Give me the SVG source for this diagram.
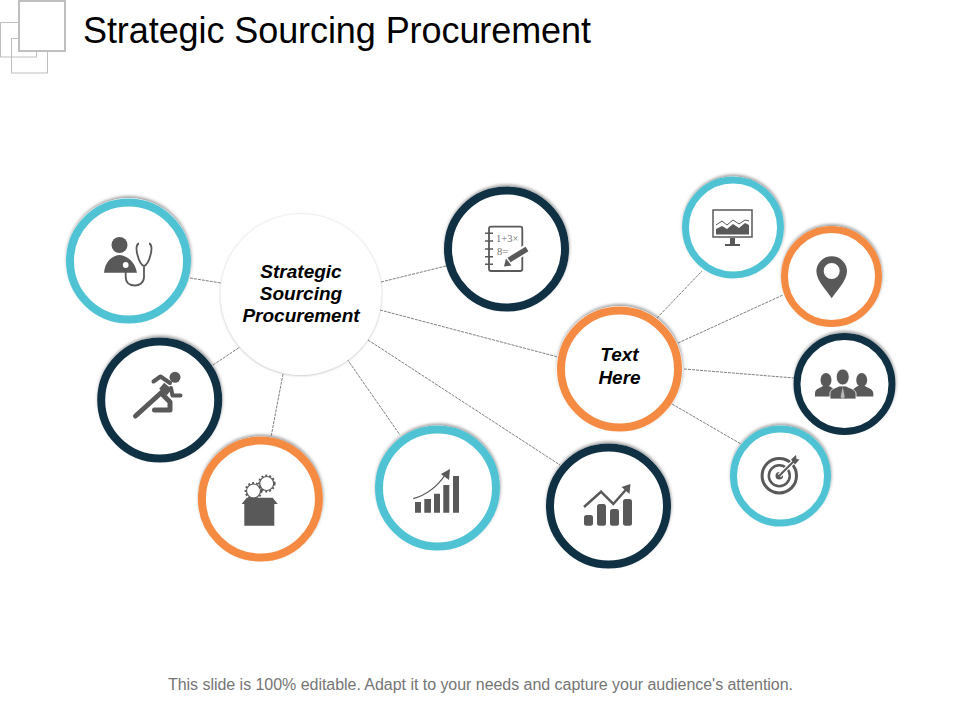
<svg xmlns="http://www.w3.org/2000/svg" width="960" height="720" viewBox="0 0 960 720">
<style>
text{font-family:"Liberation Sans",Arial,sans-serif}
.title{font-size:36px;fill:#000}
.foot{font-size:16px;fill:#757575}
.lab{font-size:19px;font-weight:bold;font-style:italic;fill:#000;text-anchor:middle}
.con{stroke:#7f7f7f;stroke-width:1;stroke-dasharray:3 1;fill:none}
.back{fill:#fff;filter:url(#sh)}
.ring{fill:#fff;stroke-width:8}
.ring7{fill:#fff;stroke-width:7}
.teal{stroke:#4fc3d4}
.navy{stroke:#103044}
.orange{stroke:#f58a42}
.f{fill:#595959;stroke:none}
.s{fill:none;stroke:#595959}
</style>
<defs>
<filter id="sh" x="-20%" y="-20%" width="140%" height="140%"><feDropShadow dx="0.5" dy="-2" stdDeviation="1.500" flood-color="#666" flood-opacity="0.6"/></filter>
<filter id="cs" x="-20%" y="-20%" width="140%" height="140%"><feDropShadow dx="0" dy="0.500" stdDeviation="1.200" flood-color="#888" flood-opacity="0.6"/></filter>
</defs>
<rect width="960" height="720" fill="#fff"/>
<g id="deco" fill="none" stroke="#bfbfbf">
<rect x="0.500" y="22.500" width="36" height="34.500"/>
<rect x="11.500" y="38.500" width="36" height="34.500"/>
<rect x="19" y="1" width="46" height="50" stroke-width="2" fill="#fff"/>
</g>
<text class="title" x="83" y="43" textLength="508">Strategic Sourcing Procurement</text>
<g id="connectors">
<line class="con" x1="190" y1="278" x2="221" y2="283"/>
<line class="con" x1="381" y1="282" x2="446" y2="266"/>
<line class="con" x1="213" y1="365" x2="240" y2="347"/>
<line class="con" x1="283" y1="374" x2="271" y2="437"/>
<line class="con" x1="347" y1="359" x2="400" y2="435"/>
<line class="con" x1="368" y1="340" x2="560" y2="465"/>
<line class="con" x1="380" y1="310" x2="558" y2="357"/>
<line class="con" x1="657" y1="318" x2="702" y2="271"/>
<line class="con" x1="678" y1="343" x2="783" y2="295"/>
<line class="con" x1="684" y1="369" x2="794" y2="378"/>
<line class="con" x1="672" y1="404" x2="741" y2="444"/>
</g>
<g id="node-center">
<circle cx="301" cy="294.500" r="80.500" fill="#fff" filter="url(#cs)"/>
<text class="lab" x="301" y="278">Strategic</text>
<text class="lab" x="301" y="300">Sourcing</text>
<text class="lab" x="301" y="322">Procurement</text>
</g>
<g id="node-doctor">
<circle class="back" cx="128.500" cy="260.500" r="62.500"/>
<circle class="ring teal" cx="128.500" cy="261" r="58.500"/>
<circle class="f" cx="119.500" cy="245" r="8"/>
<path class="f" d="M104 272.700C105 262 111 256 119.500 255C128 256 135 262 137 272.700Z"/>
<path class="s" stroke-width="1.800" d="M139 243.500C136 244 136 250 137.500 255C138.500 259 141 265 144 266C147 265 149.500 259 150.500 255C152 250 152 244 149 243.500M144 266V277C144 283 139 285.500 135 285.500C130 285.500 125.700 283 125.700 277V269"/>
<circle cx="125.700" cy="265" r="3.800" fill="#fff" stroke="#595959" stroke-width="1.800"/>
</g>
<g id="node-runner">
<circle class="back" cx="159.700" cy="400" r="62.500"/>
<circle class="ring navy" cx="159.700" cy="400" r="58.500"/>
<circle class="f" cx="175" cy="377.300" r="5.500"/>
<path class="s" stroke-width="10" stroke-linejoin="round" d="M163 392L168 386"/>
<path class="s" stroke-width="5" stroke-linecap="round" stroke-linejoin="round" d="M135.500 416L162 392M163 395L170 402V410H154.500"/>
<path class="s" stroke-width="4" stroke-linecap="round" stroke-linejoin="round" d="M153.500 381.500L160.500 376.500L170 383M171 388L172.500 395.500H180.500"/>
</g>
<g id="node-gears">
<circle class="back" cx="260.400" cy="499" r="62.500"/>
<circle class="ring orange" cx="260.400" cy="499" r="58.500"/>
<circle class="s" cx="253.500" cy="491" r="7" stroke-width="1.200"/>
<circle class="s" cx="253.500" cy="491" r="8" stroke-width="1.800" stroke-dasharray="2 2"/>
<circle class="s" cx="266.700" cy="483.500" r="7" stroke-width="1.200"/>
<circle class="s" cx="266.700" cy="483.500" r="8" stroke-width="1.800" stroke-dasharray="2 2"/>
<path class="f" d="M246.700 497.700H272.700L277.700 504H274.300V525.700H244.300V504H241.700Z"/>
</g>
<g id="node-bars">
<circle class="back" cx="437.500" cy="488" r="62.500"/>
<circle class="ring teal" cx="437.500" cy="488" r="58.500"/>
<path class="f" d="M415 502h6v10.700h-6zM424.300 499h6.700v13.700h-6.700zM434 493.700h6v19h-6zM443.300 485h6v27.700h-6zM453 476h6v36.700h-6z"/>
<path class="s" stroke-width="1.300" d="M413.300 498.700C426 495 437 487 445 475"/>
<path class="f" d="M450 469L449 480L441 474Z"/>
</g>
<g id="node-growth">
<circle class="back" cx="608.500" cy="506" r="62.500"/>
<circle class="ring navy" cx="608.500" cy="506" r="58.500"/>
<rect class="f" x="584" y="515" width="9" height="10.700" rx="2.500"/>
<rect class="f" x="597" y="504" width="9" height="21.700" rx="2.500"/>
<rect class="f" x="610" y="509" width="9" height="16.700" rx="2.500"/>
<rect class="f" x="623" y="499" width="9" height="26.700" rx="2.500"/>
<path class="s" stroke-width="2.500" d="M584 507L601 491.700L613.300 504L627 488.500"/>
<path class="f" d="M630.500 484L629.500 494L621.500 487Z"/>
</g>
<g id="node-notebook">
<circle class="back" cx="506.500" cy="249" r="62.500"/>
<circle class="ring navy" cx="506.500" cy="249" r="58.500"/>
<rect x="489" y="226.700" width="33.300" height="44.300" rx="2" fill="#fff" stroke="#595959" stroke-width="1.800"/>
<path class="s" stroke-width="1.600" d="M485 233.300h8M485 241h8M485 249h8M485 256.700h8M485 264.300h8"/>
<text x="496" y="242" font-size="10.500" fill="#777" style="font-family:'Liberation Serif',serif">1+3×</text>
<text x="497" y="255" font-size="10.500" fill="#777" style="font-family:'Liberation Serif',serif">8=</text>
<path d="M507 262L526 249" stroke="#fff" stroke-width="9" fill="none"/>
<path class="s" stroke-width="5.500" d="M509 260L527 249"/>
<path class="f" d="M504 266.500L506 258.500L511.500 265.500Z"/>
</g>
<g id="node-textHere">
<circle class="back" cx="619.500" cy="369" r="63"/>
<circle class="ring orange" cx="619.500" cy="369" r="58.500"/>
<text class="lab" x="619.500" y="361">Text</text>
<text class="lab" x="619.500" y="384">Here</text>
</g>
<g id="node-monitor">
<circle class="back" cx="733" cy="227.500" r="51"/>
<circle class="ring7 teal" cx="733" cy="227.500" r="47.500"/>
<rect x="713" y="210" width="39" height="27" fill="#fff" stroke="#595959" stroke-width="1.500"/>
<path class="f" d="M716 234.500V229L722 226L727 229L733 224L739 228L745 223L749 225V234.500Z"/>
<path fill="none" stroke="#595959" stroke-width="1" d="M716 225L722 221L727 225L733 220L739 224L745 220L749 221"/>
<path class="f" d="M730 238h5v6h-5zM725 244h15v2h-15z"/>
</g>
<g id="node-pin">
<circle class="back" cx="831.500" cy="276.500" r="50.500"/>
<circle class="ring7 orange" cx="831.500" cy="276.500" r="47"/>
<path class="f" fill-rule="evenodd" d="M831.700 298.300C828 292 816.400 281 816.400 271.500A15.300 15.300 0 0 1 847 271.500C847 281 835.500 292 831.700 298.300ZM831.700 263A8 8 0 1 0 831.700 279A8 8 0 1 0 831.700 263Z"/>
</g>
<g id="node-team">
<circle class="back" cx="844.500" cy="384" r="51"/>
<circle class="ring7 navy" cx="844.500" cy="384" r="47.500"/>
<ellipse class="f" cx="826" cy="380" rx="5.500" ry="7"/>
<path class="f" d="M815 396.500V393C815 389 820 388 823 386H829C832 388 835 389 836 392V396.500Z"/>
<ellipse class="f" cx="861.700" cy="380" rx="5.500" ry="7"/>
<path class="f" d="M873.300 396.500V393C873 389 868 388 865 386H858C855 388 852 389 851 392V396.500Z"/>
<ellipse cx="842.700" cy="377" rx="6.500" ry="8" fill="#595959" stroke="#fff" stroke-width="0.800"/>
<path d="M830 399V393C830 389 836 388 839 386H846C849 388 855 389 856 393V399Z" fill="#595959" stroke="#fff" stroke-width="0.800"/>
<path d="M842.700 387L844.800 397L842.700 399L840.600 397Z" fill="#b8b8b8"/>
</g>
<g id="node-target">
<circle class="back" cx="780.500" cy="476" r="50.500"/>
<circle class="ring7 teal" cx="780.500" cy="476" r="47"/>
<circle class="s" cx="779.300" cy="475.700" r="17.200" stroke-width="3"/>
<circle class="s" cx="779.300" cy="475.700" r="10.500" stroke-width="2.500"/>
<circle class="f" cx="779.300" cy="475.700" r="3.800"/>
<path d="M779.300 475.700L794 461" stroke="#fff" stroke-width="4.500"/>
<path class="s" stroke-width="2" d="M779.300 475.700L794 461"/>
<path class="f" d="M791 459.500L796 455L796.500 459L799.500 459.500L795 464.500Z"/>
</g>
<text class="foot" x="168" y="690" textLength="625">This slide is 100% editable. Adapt it to your needs and capture your audience's attention.</text>
</svg>
